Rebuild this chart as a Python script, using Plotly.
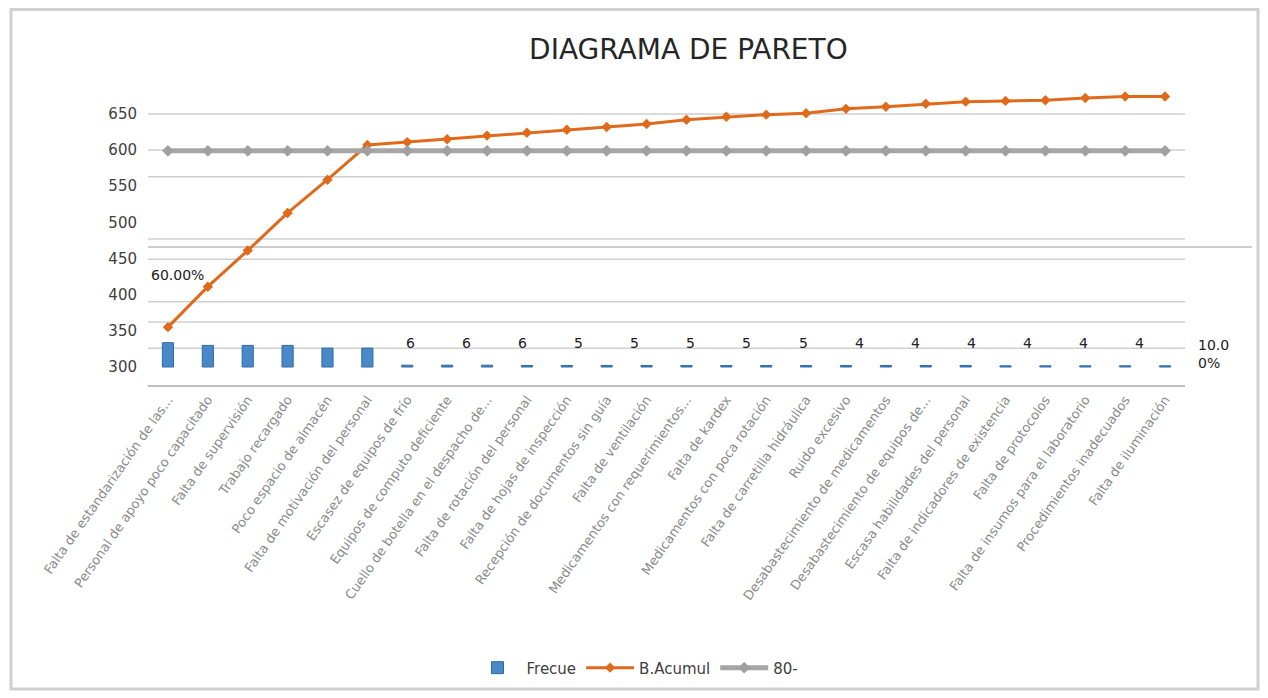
import numpy as np
import plotly.graph_objects as go

categories = [
    "Falta de estandarización de las...",
    "Personal de apoyo poco capacitado",
    "Falta de supervisión",
    "Trabajo recargado",
    "Poco espacio de almacén",
    "Falta de motivación del personal",
    "Escasez de equipos de frío",
    "Equipos de computo deficiente",
    "Cuello de botella en el despacho de...",
    "Falta de rotación del personal",
    "Falta de hojas de inspección",
    "Recepción de documentos sin guía",
    "Falta de ventilación",
    "Medicamentos con requerimientos...",
    "Falta de kardex",
    "Medicamentos con poca rotación",
    "Falta de carretilla hidráulica",
    "Ruido excesivo",
    "Desabastecimiento de medicamentos",
    "Desabastecimiento de equipos de...",
    "Escasa habilidades del personal",
    "Falta de indicadores de existencia",
    "Falta de protocolos",
    "Falta de insumos para el laboratorio",
    "Procedimientos inadecuados",
    "Falta de iluminación",
]

frecuencia = [81, 72, 72, 72, 63, 63, 6, 6, 6, 5, 5, 5, 5, 5, 5, 5, 5, 5, 5, 5, 5, 4, 4, 4, 4, 4]

acumulado = [355, 411, 461, 513, 559, 607, 611, 615, 620, 624, 628, 632, 636,
             642, 646, 649, 651, 657, 660, 664, 667, 668, 669, 672, 674, 674]

linea_80 = [599] * len(categories)

bar_labels = [6, 6, 6, 5, 5, 5, 5, 5, 4, 4, 4, 4, 4, 4]

y_ticks = [300, 350, 400, 450, 500, 550, 600, 650]

# styling / layout constants
grid_levels = [650, 600, 563, 477, 449, 390, 362, 326]
long_grid_level = 466
FONT = "DejaVu Sans"
TEXT = "#404040"

fig = go.Figure()

fig.add_trace(go.Bar(
    x=categories, y=frecuencia, name="Frecue", yaxis="y2",
    width=0.28,
    marker=dict(color="#4a89c8", line=dict(color="#2f6aa3", width=1)),
))

fig.add_trace(go.Scatter(
    x=categories, y=acumulado, name="B.Acumul", mode="lines+markers",
    line=dict(color="#e06a1b", width=3),
    marker=dict(symbol="diamond", size=8, color="#e06a1b"),
))

fig.add_trace(go.Scatter(
    x=categories, y=linea_80, name="80-", mode="lines+markers",
    line=dict(color="#a6a6a6", width=5),
    marker=dict(symbol="diamond", size=9, color="#a0a0a0"),
))

shapes = []
for g in grid_levels:
    shapes.append(dict(type="line", xref="paper", yref="y", x0=0, x1=1, y0=g, y1=g,
                       line=dict(color="#cfcfcf", width=1.5), layer="below"))
shapes.append(dict(type="line", xref="paper", yref="y", x0=0, x1=1.0646,
                   y0=long_grid_level, y1=long_grid_level,
                   line=dict(color="#bdbdbd", width=1.5), layer="below"))
# outer chart border
shapes.append(dict(type="rect", xref="paper", yref="paper",
                   x0=-0.1321, x1=1.0704, y0=-1.0133, y1=1.2517,
                   line=dict(color="#d0d0d0", width=3), layer="below"))

annotations = []
label_pos = np.linspace(6.07, 24.37, len(bar_labels))
for xp, v in zip(label_pos, bar_labels):
    annotations.append(dict(x=float(xp), y=333, xref="x", yref="y", text=str(v),
                            showarrow=False, font=dict(family=FONT, size=14, color="#202020")))
annotations.append(dict(x=0.23, y=427, xref="x", yref="y", text="60.00%", showarrow=False,
                        font=dict(family=FONT, size=14, color="#202020")))
annotations.append(dict(x=1.011, y=318, xref="paper", yref="y", text="10.0<br>0%",
                        showarrow=False, xanchor="left", align="left",
                        font=dict(family=FONT, size=14, color="#202020")))

fig.update_layout(
    width=1260, height=690,
    margin=dict(l=140, r=83, t=77, b=313),
    paper_bgcolor="white", plot_bgcolor="white",
    font=dict(family=FONT, color=TEXT),
    title=dict(text="DIAGRAMA DE PARETO", x=0.54, xanchor="center", y=0.94, yanchor="middle",
               font=dict(family=FONT, size=28, color="#262626")),
    xaxis=dict(type="category", tickangle=-55, showgrid=False,
               showline=True, linecolor="#bfbfbf", linewidth=2,
               tickfont=dict(family=FONT, size=13, color="#8c8c8c"),
               range=[-0.5, len(categories) - 0.5]),
    yaxis=dict(range=[275, 690], tickvals=y_ticks, showgrid=False, zeroline=False,
               tickfont=dict(family=FONT, size=15, color=TEXT),
               ticklabelstandoff=10),
    yaxis2=dict(range=[-60, 940], overlaying="y", side="right", visible=False,
                showgrid=False, zeroline=False),
    bargap=0.7,
    legend=dict(orientation="h", x=0.4706, xanchor="center", y=-0.943, yanchor="middle",
                font=dict(family=FONT, size=15, color=TEXT), itemwidth=48,
                entrywidth=0),
    shapes=shapes,
    annotations=annotations,
)

fig.write_html("out.html")
